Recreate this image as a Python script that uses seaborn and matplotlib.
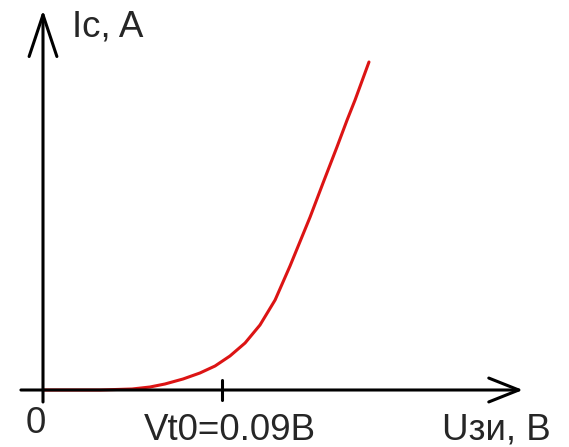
import numpy as np
import matplotlib
matplotlib.use("Agg")
import matplotlib.pyplot as plt
import seaborn as sns

# transfer characteristic (gate voltage, drain current)
u_gs = [0.0, 0.0287, 0.0448, 0.0538, 0.0613, 0.0704, 0.0789, 0.0865,
        0.0940, 0.1016, 0.1091, 0.1167, 0.1242, 0.1343, 0.1408, 0.1478,
        0.1529, 0.1569, 0.1639]
i_d = [0.0, 0.0, 0.01, 0.03, 0.06, 0.11, 0.17, 0.24,
       0.34, 0.47, 0.65, 0.90, 1.24, 1.73, 2.07, 2.43,
       2.70, 2.90, 3.28]

vt0 = 0.09
y_label = "Ic, A"
x_label = "Uзи, В"
zero_label = "0"
vt0_label = "Vt0=0.09В"

sns.set_style("white")
plt.rcParams['font.family'] = ['Liberation Sans', 'DejaVu Sans']

fig = plt.figure(figsize=(5.69, 4.47), dpi=100)
ax = fig.add_axes([0, 0, 1, 1])
ax.set_xlim(-0.02162, 0.26447)
ax.set_ylim(-0.57, 3.90)
ax.axis('off')

# axes drawn as arrows
ax.annotate("", xy=(0.2413, 0), xytext=(-0.0111, 0),
            arrowprops=dict(arrowstyle="->,head_length=21.6,head_width=8.6",
                            lw=2.2, color='black', shrinkA=0, shrinkB=0,
                            mutation_scale=1))
ax.annotate("", xy=(0, 3.80), xytext=(0, -0.12),
            arrowprops=dict(arrowstyle="->,head_length=30,head_width=10",
                            lw=2.2, color='black', shrinkA=0, shrinkB=0,
                            mutation_scale=1))
ax.plot([vt0, vt0], [-0.10, 0.10], color='black', lw=2.2)

sns.lineplot(x=u_gs, y=i_d, ax=ax, color='#dc1414', lw=2.2, sort=False)

fs = 26.5
ax.text(0.0146, 3.53, y_label, fontsize=fs, ha='left', va='baseline')
ax.text(-0.00352, -0.43, zero_label, fontsize=fs, ha='center', va='baseline')
ax.text(0.0940, -0.50, vt0_label, fontsize=fs, ha='center', va='baseline')
ax.text(0.2280, -0.50, x_label, fontsize=fs, ha='center', va='baseline')

fig.savefig("out.png", dpi=100)
